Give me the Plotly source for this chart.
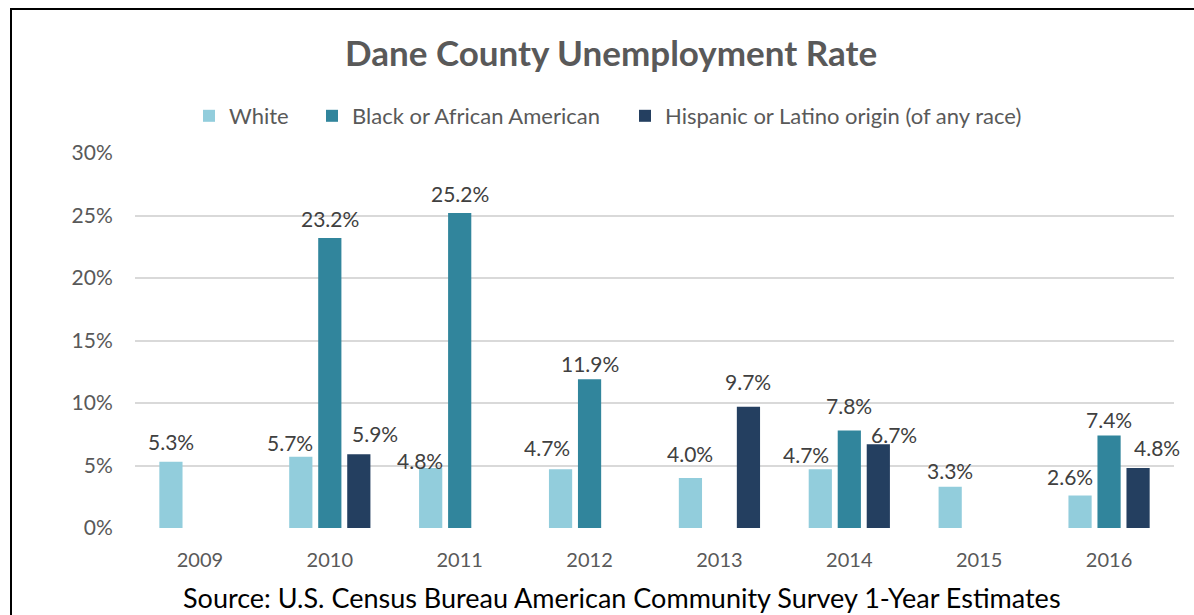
import plotly.graph_objects as go

years = ["2009", "2010", "2011", "2012", "2013", "2014", "2015", "2016"]
white = [5.3, 5.7, 4.8, 4.7, 4.0, 4.7, 3.3, 2.6]
black = [None, 23.2, 25.2, 11.9, None, 7.8, None, 7.4]
hispanic = [None, 5.9, None, None, 9.7, 6.7, None, 4.8]

series_names = ["White", "Black or African American", "Hispanic or Latino origin (of any race)"]
series_values = [white, black, hispanic]
series_colors = ["#92CDDC", "#31859C", "#243F60"]
legend_widths = [78, 268, 360]

# label nudges (dx px, height of label centre above bar top in px), like Excel's manual placement
label_nudge = {
    (0, "2010"): (-11, 14), (0, "2011"): (-11, 8), (0, "2012"): (-14, 22),
    (0, "2013"): (0, 25), (0, "2014"): (-14, 15), (0, "2015"): (0, 16), (0, "2016"): (-10, 19),
    (1, "2012"): (0, 16), (1, "2014"): (0, 25), (1, "2016"): (0, 16),
    (2, "2010"): (16, 21), (2, "2013"): (0, 25), (2, "2014"): (16, 10), (2, "2016"): (19, 21),
}

FONT = "Lato"
W, H = 1194, 615
L, R, T, B = 135, 20, 153, 87
pw, ph = W - L - R, H - T - B
BAR_STEP = 29

fig = go.Figure()
annotations = []
for i, (name, vals, col, lw) in enumerate(zip(series_names, series_values, series_colors, legend_widths)):
    fig.add_trace(go.Bar(
        x=years, y=vals, name=name, marker=dict(color=col, line=dict(width=0)),
        legendwidth=lw, hoverinfo="x+y+name",
    ))
    for j, (yr, v) in enumerate(zip(years, vals)):
        if v is None:
            continue
        dx, dy = label_nudge.get((i, yr), (0, 20))
        annotations.append(dict(
            x=j, y=v, xref="x", yref="y", text=f"{v:.1f}%", showarrow=False,
            xanchor="center", yanchor="middle", xshift=(i - 1) * BAR_STEP + dx, yshift=dy,
            font=dict(family=FONT, size=21, color="#404040"),
        ))

def px_x(x):
    return (x - L) / pw

def px_y(y):
    return (H - B - y) / ph

annotations += [
    dict(text="<b>Dane County Unemployment Rate</b>", x=px_x(611), y=px_y(52),
         xref="paper", yref="paper", showarrow=False, xanchor="center", yanchor="middle",
         font=dict(family=FONT, size=35, color="#595959")),
    dict(text="Source: U.S. Census Bureau American Community Survey 1-Year Estimates",
         x=px_x(622), y=px_y(597), xref="paper", yref="paper", showarrow=False,
         xanchor="center", yanchor="middle",
         font=dict(family=FONT, size=27, color="#000000")),
]

fig.update_layout(
    width=W, height=H,
    margin=dict(l=L, r=R, t=T, b=B),
    paper_bgcolor="white", plot_bgcolor="white",
    barmode="group", bargap=0.33, bargroupgap=0.2,
    font=dict(family=FONT, color="#595959"),
    showlegend=True,
    legend=dict(orientation="h", x=px_x(189), xanchor="left", y=px_y(116), yanchor="middle",
                font=dict(family=FONT, size=22, color="#595959"), itemwidth=30,
                traceorder="normal", bgcolor="rgba(0,0,0,0)"),
    annotations=annotations,
    shapes=[
        dict(type="line", xref="paper", yref="paper", x0=px_x(11), x1=px_x(11),
             y0=px_y(9), y1=px_y(640), line=dict(color="black", width=2)),
        dict(type="line", xref="paper", yref="paper", x0=px_x(10), x1=px_x(1200),
             y0=px_y(9), y1=px_y(9), line=dict(color="black", width=2)),
    ],
)
fig.update_yaxes(range=[0, 30], dtick=5, ticksuffix="%", showgrid=True, gridcolor="#D9D9D9",
                 gridwidth=2, zeroline=False, showline=False,
                 tickfont=dict(family=FONT, size=21, color="#595959"),
                 ticks="outside", ticklen=17, tickcolor="rgba(0,0,0,0)")
fig.update_xaxes(type="category", categoryorder="array", categoryarray=years,
                 range=[-0.5, len(years) - 0.5],
                 showgrid=False, showline=False, zeroline=False,
                 tickfont=dict(family=FONT, size=20, color="#595959"),
                 ticks="outside", ticklen=14, tickcolor="rgba(0,0,0,0)")

fig.write_html("out.html", config={"displayModeBar": False})
with open("out.html", encoding="utf-8") as f:
    html = f.read()
html = html.replace("<head>", "<head><style>html,body{margin:0;padding:0;overflow:hidden;}</style>", 1)
with open("out.html", "w", encoding="utf-8") as f:
    f.write(html)
